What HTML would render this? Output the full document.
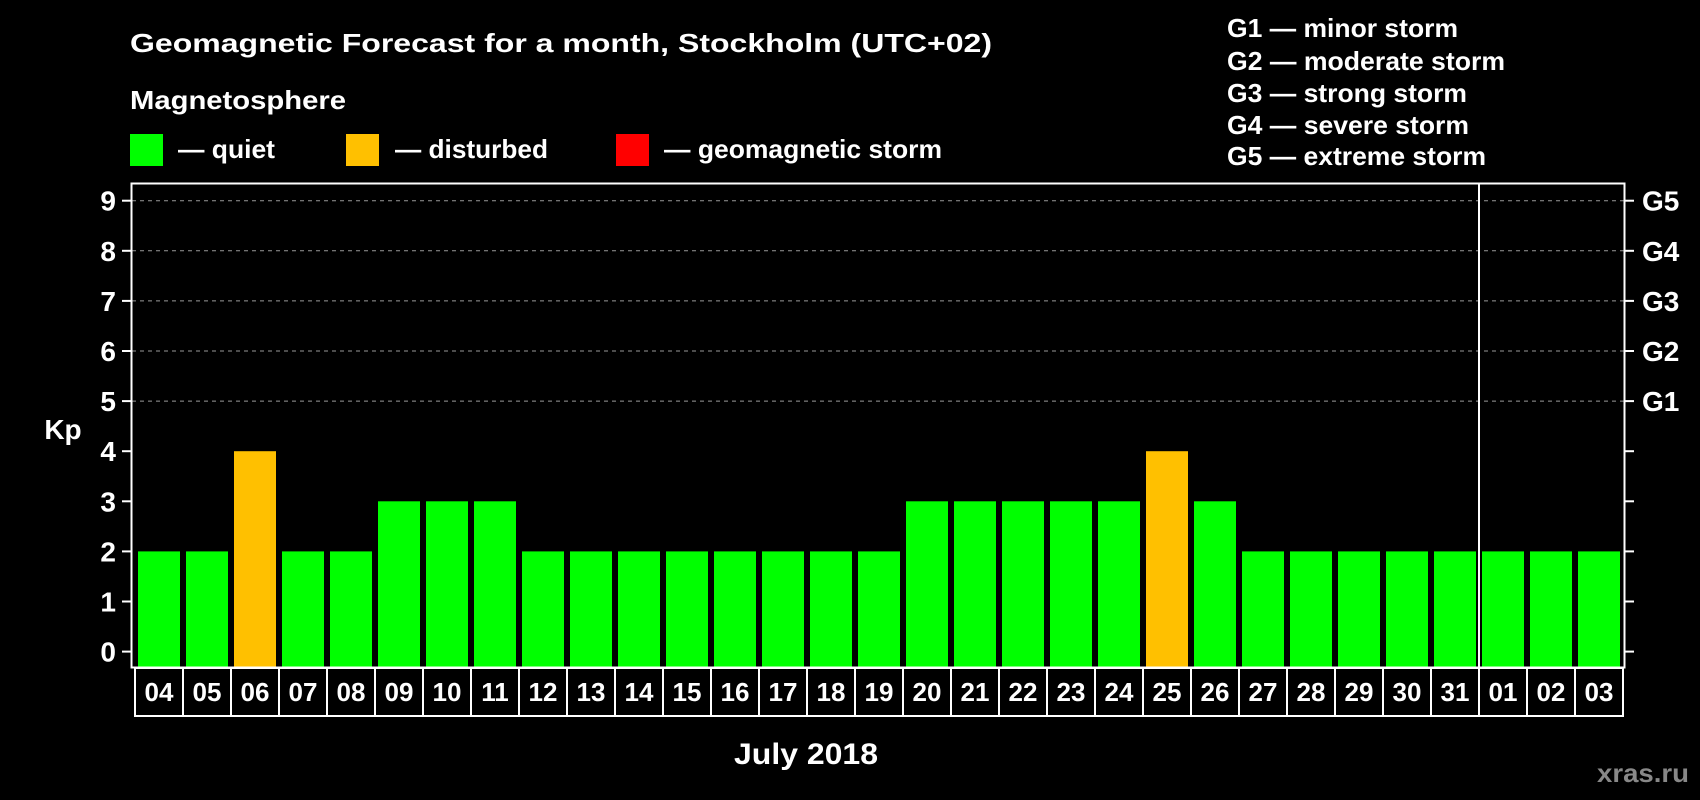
<!DOCTYPE html>
<html><head><meta charset="utf-8"><style>html,body{margin:0;padding:0;background:#000;}svg{display:block}</style></head>
<body>
<svg width="1700" height="800" viewBox="0 0 1700 800" xmlns="http://www.w3.org/2000/svg" font-family="Liberation Sans, Arial, sans-serif" font-weight="bold" fill="#fff">
<rect width="1700" height="800" fill="#000"/>
<text x="130" y="52" font-size="26" textLength="862" lengthAdjust="spacingAndGlyphs">Geomagnetic Forecast for a month, Stockholm (UTC+02)</text>
<text x="130" y="109" font-size="26" textLength="216" lengthAdjust="spacingAndGlyphs">Magnetosphere</text>
<rect x="130" y="134" width="33" height="32" fill="#00ff00"/>
<text x="178" y="158" font-size="26" textLength="97" lengthAdjust="spacingAndGlyphs">— quiet</text>
<rect x="346" y="134" width="33" height="32" fill="#ffc000"/>
<text x="395" y="158" font-size="26" textLength="153" lengthAdjust="spacingAndGlyphs">— disturbed</text>
<rect x="616" y="134" width="33" height="32" fill="#ff0000"/>
<text x="664" y="158" font-size="26" textLength="278" lengthAdjust="spacingAndGlyphs">— geomagnetic storm</text>
<g font-size="26">
<text x="1227" y="37" textLength="231" lengthAdjust="spacingAndGlyphs">G1 — minor storm</text>
<text x="1227" y="70" textLength="278" lengthAdjust="spacingAndGlyphs">G2 — moderate storm</text>
<text x="1227" y="102" textLength="240" lengthAdjust="spacingAndGlyphs">G3 — strong storm</text>
<text x="1227" y="134" textLength="242" lengthAdjust="spacingAndGlyphs">G4 — severe storm</text>
<text x="1227" y="165" textLength="259" lengthAdjust="spacingAndGlyphs">G5 — extreme storm</text>
</g>
<g id="grid" stroke="#999" stroke-width="1" stroke-dasharray="4,4"></g>
<g id="bars"></g>
<rect x="131.5" y="183.5" width="1493" height="484" fill="none" stroke="#fff" stroke-width="2"/>
<line x1="1479" x2="1479" y1="183" y2="716" stroke="#fff" stroke-width="2"/>
<g id="ticks" stroke="#fff" stroke-width="2"></g>
<g id="ylab" font-size="28" text-anchor="end"></g>
<g id="glab" font-size="28"></g>
<g id="xlab" font-size="26" text-anchor="middle"></g>
<text x="63" y="439" font-size="28" text-anchor="middle">Kp</text>
<text x="734" y="764" font-size="30" textLength="144" lengthAdjust="spacingAndGlyphs">July 2018</text>
<text x="1597" y="782" font-size="26" fill="#888" textLength="92" lengthAdjust="spacingAndGlyphs">xras.ru</text>
</svg>
<script>
const ns="http://www.w3.org/2000/svg";
function el(p,t,a,txt){const e=document.createElementNS(ns,t);for(const k in a)e.setAttribute(k,a[k]);if(txt!==undefined)e.textContent=txt;document.getElementById(p).appendChild(e);}
const days=["04","05","06","07","08","09","10","11","12","13","14","15","16","17","18","19","20","21","22","23","24","25","26","27","28","29","30","31","01","02","03"];
const vals=[2,2,4,2,2,3,3,3,2,2,2,2,2,2,2,2,3,3,3,3,3,4,3,2,2,2,2,2,2,2,2];
const y0=651.6,u=50.1,yb=667;
days.forEach((d,i)=>{const x=138+48*i;const v=vals[i];
el("bars","rect",{x:x,y:y0-v*u,width:42,height:yb-(y0-v*u),fill:v>=4?"#ffc000":"#00ff00"});
el("xlab","text",{x:x+21,y:701},d);
el("ticks","rect",{x:135+48*i,y:668,width:48,height:48,fill:"none"});
});
for(let k=0;k<=9;k++){const y=y0-k*u;
el("ticks","line",{x1:122,x2:131,y1:y,y2:y});
el("ticks","line",{x1:1625,x2:1634,y1:y,y2:y});
el("ylab","text",{x:116,y:y+10},String(k));
if(k>=5){el("glab","text",{x:1642,y:y+10},"G"+(k-4));
el("grid","line",{x1:132,x2:1624,y1:y,y2:y});}
}
</script>
</body></html>
